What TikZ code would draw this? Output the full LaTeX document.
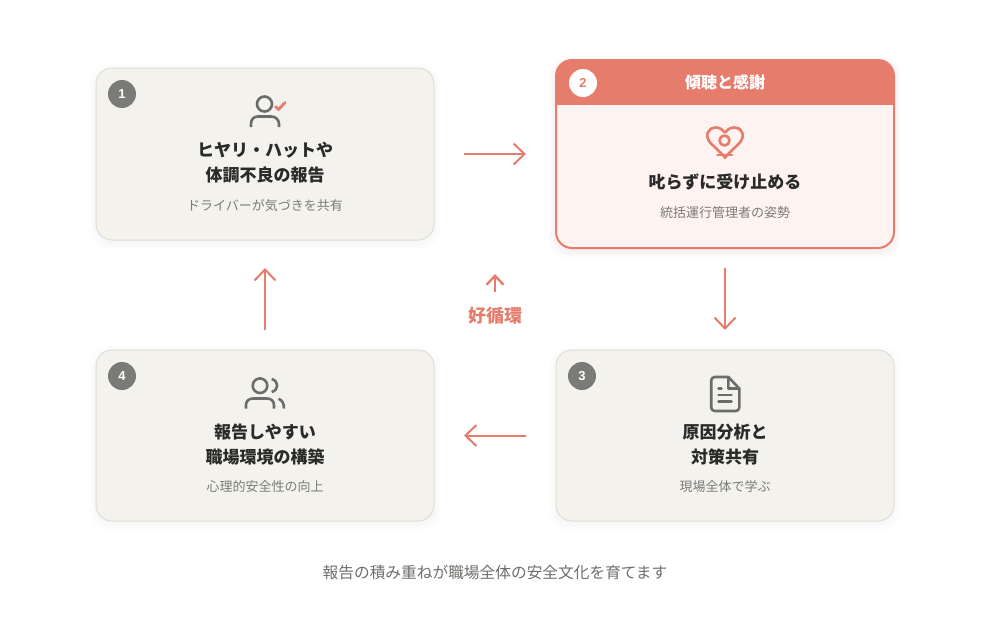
\documentclass[tikz,border=0pt]{standalone}
\usepackage{fontspec}
\setmainfont{Noto Sans CJK JP}
\newfontfamily\numfont{Liberation Sans}
\usetikzlibrary{arrows.meta}
\definecolor{coral}{HTML}{E57C6C}
\definecolor{cardfill}{HTML}{F3F2EC}
\definecolor{cardline}{HTML}{DEDDD5}
\definecolor{hotfill}{HTML}{FEF3F0}
\definecolor{badge}{HTML}{7A7A77}
\definecolor{inkdark}{HTML}{2A2A2A}
\definecolor{inksub}{HTML}{7B7B78}
\definecolor{inkcap}{HTML}{6E6E6B}
\definecolor{iconink}{HTML}{6C6C69}
\newcommand{\cardshade}[6]{%
  \foreach \s in {1,2,...,7}{
    \fill[#5,opacity=#6,rounded corners=18pt]
      ({#1-\s},{#2-\s+3}) rectangle ({#3+\s},{#4+\s+3});
  }}
\tikzset{
  x=1pt,y=-1pt,
  cardbox/.style={rectangle,rounded corners=16pt,outer sep=0pt,inner sep=0pt,
    minimum width=338pt,minimum height=172pt,fill=cardfill,draw=cardline,line width=1pt},
  hotbox/.style={cardbox,minimum height=188pt,fill=hotfill,draw=coral,line width=2pt},
  titletext/.style={anchor=base,inner sep=0pt,text=inkdark,font=\fontsize{17pt}{20pt}\selectfont\bfseries},
  subtext/.style={anchor=base,inner sep=0pt,text=inksub,font=\fontsize{13pt}{16pt}\selectfont},
  captext/.style={anchor=base,inner sep=0pt,text=inkcap,font=\fontsize{15.7pt}{18pt}\selectfont},
  headtext/.style={anchor=base,inner sep=0pt,text=white,font=\fontsize{16pt}{20pt}\selectfont\bfseries},
  looptext/.style={anchor=base,inner sep=0pt,text=coral,font=\fontsize{18pt}{20pt}\selectfont\bfseries},
  numbadge/.style={circle,minimum size=28pt,inner sep=0pt,fill=badge,text=white,font=\fontsize{13pt}{14pt}\selectfont\numfont\bfseries},
  hotbadge/.style={numbadge,fill=white,text=coral},
  flow/.style={draw=coral,line width=2pt,-{Straight Barb[length=11pt,width=21pt,line width=2pt]}},
  miniflow/.style={draw=coral,line width=2.4pt,-{Straight Barb[length=9pt,width=17pt,line width=2.4pt]}},
  iconstroke/.style={draw=iconink,line width=2.6pt,fill=none,line cap=round,line join=round},
  hearticon/.style={draw=coral,line width=2.6pt,fill=none,line cap=round,line join=round},
}
\begin{document}
\begin{tikzpicture}
\useasboundingbox (0,0) rectangle (1007,622);
\fill[white] (0,0) rectangle (1007,622);

% shadows
\cardshade{96}{68}{434}{240}{black}{0.0025}
\cardshade{556}{60}{894}{248}{coral}{0.012}
\cardshade{556}{350}{894}{521}{black}{0.0025}
\cardshade{96}{350}{434}{521}{black}{0.0025}

% cards
\node[cardbox] (c1) at (265,154) {};
\node[hotbox] (c2) at (725,154) {};
\node[cardbox,minimum height=171pt] (c3) at (725,435.5) {};
\node[cardbox,minimum height=171pt] (c4) at (265,435.5) {};

% header band of card 2
\begin{scope}
  \clip[rounded corners=16pt] (556,60) rectangle (894,248);
  \fill[coral] (556,60) rectangle (894,105);
\end{scope}

% badges
\node[numbadge] (b1) at (122,94) {1};
\node[hotbadge] (b2) at (583,83) {2};
\node[numbadge] (b3) at (582,376) {3};
\node[numbadge] (b4) at (122,376) {4};

% texts
\node[headtext] (h2) at (725,88) {傾聴と感謝};

\node[titletext] (t1a) at (265,156) {ヒヤリ・ハットや};
\node[titletext] (t1b) at (265,181) {体調不良の報告};
\node[subtext] (s1) at (265,210) {ドライバーが気づきを共有};

\node[titletext] (t2) at (725,188) {叱らずに受け止める};
\node[subtext] (s2) at (725,217) {統括運行管理者の姿勢};

\node[titletext] (t3a) at (725,438) {原因分析と};
\node[titletext] (t3b) at (725,463) {対策共有};
\node[subtext] (s3) at (725,491) {現場全体で学ぶ};

\node[titletext] (t4a) at (265,438) {報告しやすい};
\node[titletext] (t4b) at (265,463) {職場環境の構築};
\node[subtext] (s4) at (265,491) {心理的安全性の向上};

\node[looptext] (loop) at (495,322) {好循環};
\node[captext] (cap) at (495,578) {報告の積み重ねが職場全体の安全文化を育てます};

% connectors
\draw[flow,shorten <=30pt,shorten >=30pt] (c1.east) -- (c2.west);
\draw[flow,shorten <=20pt,shorten >=20pt] (c2.south) -- (c3.north);
\draw[flow,shorten <=30pt,shorten >=30pt] (c3.west) -- (c4.east);
\draw[flow,shorten <=20pt,shorten >=28pt] (c4.north) -- (c1.south);
\coordinate (looptop) at (495,274);
\draw[miniflow] (loop.north |- 0,291.5) -- (looptop);

% icon 1: person with check
\draw[iconstroke] (264.5,104) circle (7.5);
\draw[iconstroke,line cap=butt] (251,127) -- (251,124) .. controls (251,119) and (254,116.5) .. (258,116.5) -- (271,116.5) .. controls (275,116.5) and (279,119) .. (279,124) -- (279,127);
\draw[coral,line width=2.8pt,line cap=round,line join=round] (275.5,106.5) -- (278.5,109.5) -- (285,102.5);

% icon 2: heart with circle
\draw[hearticon] (725,157) -- (710.5,143) .. controls (704,135.5) and (708,127.5) .. (716,127.5) .. controls (720,127.5) and (723,130) .. (725,132.5) .. controls (727,130) and (730,127.5) .. (734,127.5) .. controls (742,127.5) and (746,135.5) .. (739.5,143) -- cycle;
\draw[hearticon] (724.5,140.5) circle (5);
\draw[hearticon] (717.5,155) -- (732,155);
\fill[coral] (721.5,155) -- (728.5,155) -- (725,159.5) -- cycle;
\draw[hearticon] (738,128) -- (741,130.5);

% icon 3: document
\draw[iconstroke,rounded corners=3.5pt] (728.3,377) -- (711.2,377) -- (711.2,411) -- (739.3,411) -- (739.3,388.5);
\draw[iconstroke] (739.3,388.5) -- (728.3,377) -- (728.3,388.5) -- cycle;
\draw[iconstroke] (718.5,388.5) -- (721.5,388.5);
\draw[iconstroke] (718.5,395) -- (731.5,395);
\draw[iconstroke] (718.5,401.7) -- (731.5,401.7);

% icon 4: two people
\draw[iconstroke] (260,385.7) circle (7.3);
\draw[iconstroke,line cap=butt] (271.7,379) .. controls (279,381) and (279,390) .. (271.7,392);
\draw[iconstroke,line cap=butt] (246,408.5) -- (246,405) .. controls (246,401) and (249,398.5) .. (253,398.5) -- (267,398.5) .. controls (271,398.5) and (274,401) .. (274,405) -- (274,408.5);
\draw[iconstroke,line cap=butt] (278.5,398.8) .. controls (282,400) and (284,403) .. (284,408.5);
\end{tikzpicture}
\end{document}
